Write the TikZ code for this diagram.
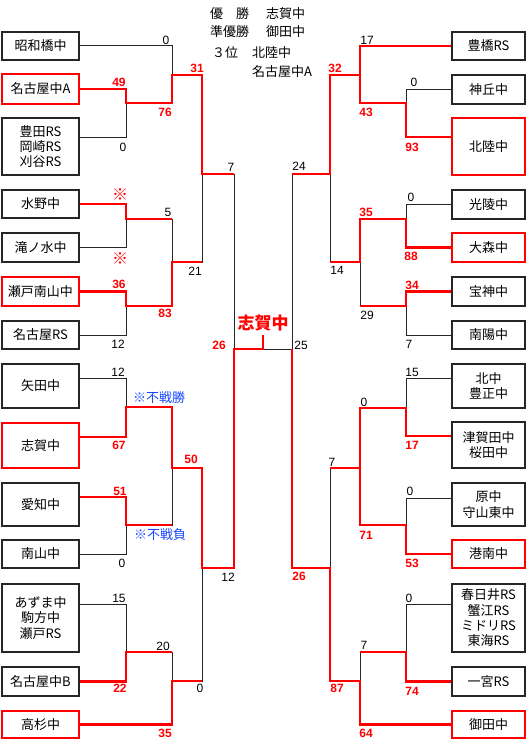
\documentclass[tikz,border=0pt]{standalone}
\usepackage{fontspec}
\setmainfont{Noto Sans CJK JP}
\newfontfamily\numfont{Liberation Sans}
\definecolor{winred}{RGB}{255,0,0}
\definecolor{noteblue}{RGB}{20,70,255}

\begin{document}
\begin{tikzpicture}[x=1pt,y=-1pt,
team/.style={draw=black!85,line width=1.3pt,minimum width=77pt,inner sep=0pt,align=center,font=\fontsize{13}{15.3}\selectfont},
rteam/.style={team,minimum width=73pt},
won/.style={draw=winred,line width=2.4pt},
bline/.style={black!85,line width=1pt},
winpath/.style={winred,line width=2.2pt},
score/.style={inner sep=0pt,font=\numfont\fontsize{12}{12}\selectfont},
wscore/.style={score,text=winred,font=\numfont\bfseries\fontsize{12}{12}\selectfont},
ast/.style={inner sep=0pt,text=winred,font=\bfseries\fontsize{16}{16}\selectfont},
note/.style={inner sep=0pt,text=noteblue,font=\fontsize{13}{13}\selectfont},
headtext/.style={anchor=west,inner sep=0pt,font=\fontsize{13}{13}\selectfont}]
\useasboundingbox (0,0) rectangle (526,741);

\node[headtext] (t1) at (210,14) {優　勝};
\node[headtext] (t2) at (266,14) {志賀中};
\node[headtext] (t3) at (210,32) {準優勝};
\node[headtext] (t4) at (266,32) {御田中};
\node[headtext] (t5) at (212,53) {３位};
\node[headtext] (t6) at (252,53) {北陸中};
\node[headtext] (t7) at (252,72) {名古屋中A};

\node[team,minimum height=28pt] (L1) at (40.5,46) {昭和橋中};
\node[team,won,minimum height=30pt] (L2) at (40.5,89) {名古屋中A};
\node[team,minimum height=57pt] (L3) at (40.5,146.5) {豊田RS\\岡崎RS\\刈谷RS};
\node[team,minimum height=28pt] (L4) at (40.5,204) {水野中};
\node[team,minimum height=29pt] (L5) at (40.5,247.5) {滝ノ水中};
\node[team,won,minimum height=29pt] (L6) at (40.5,291.5) {瀬戸南山中};
\node[team,minimum height=28pt] (L7) at (40.5,335) {名古屋RS};
\node[team,minimum height=44pt] (L8) at (40.5,386) {矢田中};
\node[team,won,minimum height=45pt] (L9) at (40.5,445.5) {志賀中};
\node[team,minimum height=43pt] (L10) at (40.5,504.5) {愛知中};
\node[team,minimum height=28pt] (L11) at (40.5,554) {南山中};
\node[team,minimum height=68pt] (L12) at (40.5,618) {あずま中\\駒方中\\瀬戸RS};
\node[team,minimum height=29pt] (L13) at (40.5,681.5) {名古屋中B};
\node[team,won,minimum height=27pt] (L14) at (40.5,724.5) {高杉中};

\node[rteam,minimum height=28pt] (R1) at (488.5,46) {豊橋RS};
\node[rteam,minimum height=29pt] (R2) at (488.5,89.5) {神丘中};
\node[rteam,won,minimum height=57pt] (R3) at (488.5,146.5) {北陸中};
\node[rteam,minimum height=29pt] (R4) at (488.5,204.5) {光陵中};
\node[rteam,won,minimum height=29pt] (R5) at (488.5,247.5) {大森中};
\node[rteam,minimum height=29pt] (R6) at (488.5,291.5) {宝神中};
\node[rteam,minimum height=28pt] (R7) at (488.5,335) {南陽中};
\node[rteam,minimum height=44pt] (R8) at (488.5,386) {北中\\豊正中};
\node[rteam,minimum height=46pt] (R9) at (488.5,445) {津賀田中\\桜田中};
\node[rteam,minimum height=43pt] (R10) at (488.5,504.5) {原中\\守山東中};
\node[rteam,won,minimum height=28pt] (R11) at (488.5,554) {港南中};
\node[rteam,minimum height=68pt] (R12) at (488.5,618) {春日井RS\\蟹江RS\\ミドリRS\\東海RS};
\node[rteam,minimum height=29pt] (R13) at (488.5,681.5) {一宮RS};
\node[rteam,won,minimum height=27pt] (R14) at (488.5,724.5) {御田中};

\coordinate (m1) at (126,103);
\coordinate (m2) at (172,75);
\coordinate (m3) at (126,219);
\coordinate (m4) at (126,306);
\coordinate (m5) at (172,262);
\coordinate (m6) at (202,174);
\coordinate (m7) at (126,407);
\coordinate (m8) at (126,525);
\coordinate (m9) at (172,468);
\coordinate (m10) at (126,652);
\coordinate (m11) at (172,681);
\coordinate (m12) at (202,568);
\coordinate (m13) at (234,349);
\coordinate (n1) at (406,103);
\coordinate (n2) at (360,75);
\coordinate (n3) at (406,219);
\coordinate (n4) at (406,306);
\coordinate (n5) at (360,262);
\coordinate (n6) at (330,174);
\coordinate (n7) at (406,408);
\coordinate (n8) at (406,525);
\coordinate (n9) at (360,468);
\coordinate (n10) at (406,652);
\coordinate (n11) at (360,681);
\coordinate (n12) at (330,568);
\coordinate (n13) at (292,349);
\coordinate (ch) at (263,349);
\coordinate (tk) at (263,335);

\draw[bline] (L1.east) -| (m2);
\draw[bline] (L2.east) -| (m1);
\draw[bline] (L3.east |- 0,137) -| (m1);
\draw[bline] (m1) -| (m2);
\draw[bline] (m2) -| (m6);
\draw[bline] (L4.east) -| (m3);
\draw[bline] (L5.east) -| (m3);
\draw[bline] (L6.east) -| (m4);
\draw[bline] (L7.east) -| (m4);
\draw[bline] (m3) -| (m5);
\draw[bline] (m4) -| (m5);
\draw[bline] (m5) -| (m6);
\draw[bline] (m6) -| (m13);
\draw[bline] (L8.east |- 0,378) -| (m7);
\draw[bline] (L9.east |- 0,437) -| (m7);
\draw[bline] (L10.east |- 0,497) -| (m8);
\draw[bline] (L11.east) -| (m8);
\draw[bline] (m7) -| (m9);
\draw[bline] (m8) -| (m9);
\draw[bline] (L12.east |- 0,604) -| (m10);
\draw[bline] (L13.east) -| (m10);
\draw[bline] (m10) -| (m11);
\draw[bline] (L14.east) -| (m11);
\draw[bline] (m9) -| (m12);
\draw[bline] (m11) -| (m12);
\draw[bline] (m12) -| (m13);
\draw[bline] (m13) -- (n13);

\draw[bline] (R1.west) -| (n2);
\draw[bline] (R2.west) -| (n1);
\draw[bline] (R3.west |- 0,137) -| (n1);
\draw[bline] (n1) -| (n2);
\draw[bline] (n2) -| (n6);
\draw[bline] (R4.west) -| (n3);
\draw[bline] (R5.west) -| (n3);
\draw[bline] (R6.west) -| (n4);
\draw[bline] (R7.west) -| (n4);
\draw[bline] (n3) -| (n5);
\draw[bline] (n4) -| (n5);
\draw[bline] (n5) -| (n6);
\draw[bline] (n6) -| (n13);
\draw[bline] (R8.west |- 0,378) -| (n7);
\draw[bline] (R9.west |- 0,436) -| (n7);
\draw[bline] (R10.west |- 0,498) -| (n8);
\draw[bline] (R11.west) -| (n8);
\draw[bline] (n7) -| (n9);
\draw[bline] (n8) -| (n9);
\draw[bline] (R12.west |- 0,604) -| (n10);
\draw[bline] (R13.west) -| (n10);
\draw[bline] (n10) -| (n11);
\draw[bline] (R14.west) -| (n11);
\draw[bline] (n9) -| (n12);
\draw[bline] (n11) -| (n12);
\draw[bline] (n12) -| (n13);

\draw[winpath] (L2.east) -| (m1) -| (m2) -| (m6) -- (m6 -| m13);
\draw[winpath] (L4.east) -| (m3) -- (m3 -| m5);
\draw[winpath] (L6.east) -| (m4) -| (m5) -- (m5 -| m6);
\draw[winpath] (L9.east |- 0,437) -| (m7) -| (m9) -| (m12) -| (m13) -- (ch) -- (tk);
\draw[winpath] (L10.east |- 0,497) -| (m8) -- (m8 -| m9);
\draw[winpath] (L13.east) -| (m10) -- (m10 -| m11);
\draw[winpath] (L14.east) -| (m11) -- (m11 -| m12);

\draw[winpath] (R1.west) -| (n2);
\draw[winpath] (R3.west |- 0,137) -| (n1) -| (n2) -| (n6) -- (n6 -| n13);
\draw[winpath] (R5.west) -| (n3) -| (n5) -- (n5 -| n6);
\draw[winpath] (R6.west) -| (n4) -- (n4 -| n5);
\draw[winpath] (R9.west |- 0,436) -| (n7) -| (n9);
\draw[winpath] (R11.west) -| (n8) -| (n9) -- (n9 -| n12);
\draw[winpath] (R13.west) -| (n10) -- (n10 -| n11);
\draw[winpath] (R14.west) -| (n11) -| (n12) -| (n13);

\node[inner sep=0pt,text=winred,font=\bfseries\fontsize{17}{17}\selectfont] (champ) at (263,323) {志賀中};

\node[score] (a1) at (166,40) {0};
\node[wscore] (a2) at (119,82) {49};
\node[wscore] (a3) at (165,112) {76};
\node[score] (a4) at (123,147) {0};
\node[wscore] (a5) at (197,68) {31};
\node[score] (a6) at (231,167) {7};
\node[ast] (a7) at (120,195) {※};
\node[score] (a8) at (168,212) {5};
\node[ast] (a9) at (120,259) {※};
\node[score] (a10) at (195,271) {21};
\node[wscore] (a11) at (119,284) {36};
\node[wscore] (a12) at (165,313) {83};
\node[score] (a13) at (118,344) {12};
\node[wscore] (a14) at (219,345) {26};
\node[score] (a15) at (118,372) {12};
\node[note] (a16) at (159,398) {※不戦勝};
\node[wscore] (a17) at (119,445) {67};
\node[wscore] (a18) at (191,459) {50};
\node[wscore] (a19) at (120,491) {51};
\node[note] (a20) at (160,535) {※不戦負};
\node[score] (a21) at (122,563) {0};
\node[score] (a22) at (228,577) {12};
\node[score] (a23) at (119,598) {15};
\node[score] (a24) at (163,646) {20};
\node[wscore] (a25) at (120,688) {22};
\node[score] (a26) at (200,688) {0};
\node[wscore] (a27) at (165,733) {35};

\node[score] (b1) at (367,40) {17};
\node[wscore] (b2) at (335,68) {32};
\node[score] (b3) at (414,82) {0};
\node[wscore] (b4) at (366,112) {43};
\node[wscore] (b5) at (412,147) {93};
\node[score] (b6) at (299,166) {24};
\node[score] (b7) at (411,197) {0};
\node[wscore] (b8) at (366,212) {35};
\node[wscore] (b9) at (411,256) {88};
\node[score] (b10) at (337,270) {14};
\node[wscore] (b11) at (412,285) {34};
\node[score] (b12) at (367,315) {29};
\node[score] (b13) at (409,344) {7};
\node[score] (b14) at (301,345) {25};
\node[score] (b15) at (412,372) {15};
\node[score] (b16) at (364,402) {0};
\node[wscore] (b17) at (412,445) {17};
\node[score] (b18) at (332,462) {7};
\node[score] (b19) at (410,491) {0};
\node[wscore] (b20) at (366,535) {71};
\node[wscore] (b21) at (412,563) {53};
\node[wscore] (b22) at (299,576) {26};
\node[score] (b23) at (409,598) {0};
\node[score] (b24) at (364,645) {7};
\node[wscore] (b25) at (337,688) {87};
\node[wscore] (b26) at (412,691) {74};
\node[wscore] (b27) at (366,733) {64};
\end{tikzpicture}
\end{document}
